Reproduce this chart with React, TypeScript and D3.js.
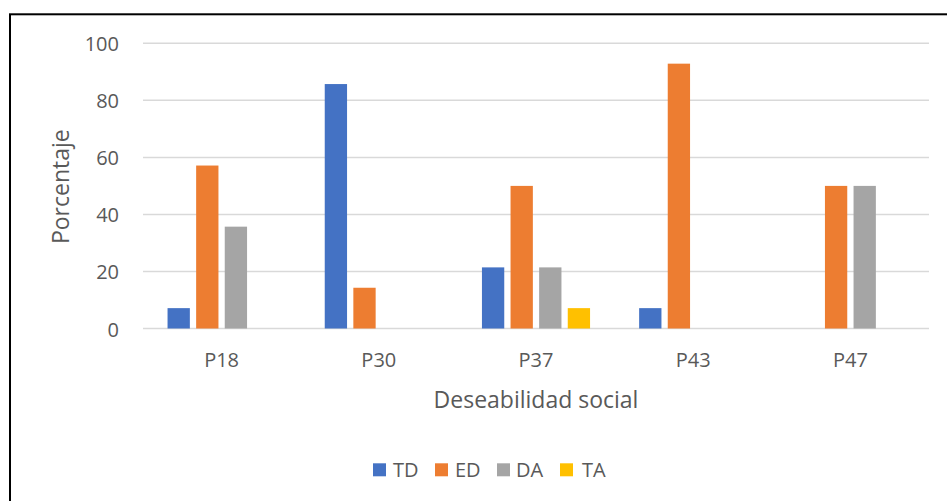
import React from "react";
import * as d3 from "d3";

const categories = ["P18", "P30", "P37", "P43", "P47"];
const seriesNames = ["TD", "ED", "DA", "TA"];
const TD = [7.14, 85.71, 21.43, 7.14, 0];
const ED = [57.14, 14.29, 50, 92.86, 50];
const DA = [35.71, 0, 21.43, 0, 50];
const TA = [0, 0, 7.14, 0, 0];
const yTicks = [0, 20, 40, 60, 80, 100];
const colors = ["#4472C4", "#ED7D31", "#A5A5A5", "#FFC000"];

const W = 947;
const H = 501;
const FONT = "'Open Sans', 'Noto Sans', sans-serif";
const TEXT = "#595959";

export default function App() {
  const seriesValues = [TD, ED, DA, TA];
  const x = d3.scaleBand<string>().domain(categories).range([143, 929]).paddingInner(0).paddingOuter(0);
  const xs = d3
    .scaleBand<string>()
    .domain(seriesNames)
    .range([0, x.bandwidth()])
    .paddingInner(0.22)
    .paddingOuter(0.858);
  const y = d3.scaleLinear().domain([0, 100]).range([328.5, 43.3]);

  const legendSquareX = [373, 435, 497, 560];
  const legendTextX = [393, 455, 516, 582];

  return (
    <div style={{ position: "absolute", left: 0, top: 0, width: W, height: H, background: "#fff" }}>
      <svg width={W} height={H} style={{ display: "block" }} fontFamily={FONT}>
        <rect x={0} y={0} width={W} height={H} fill="#fff" />
        <rect x={10} y={14.3} width={960} height={520} fill="none" stroke="#000" strokeWidth={2} />
        {yTicks.map((t) => (
          <g key={t}>
            <line x1={143} x2={929} y1={y(t)} y2={y(t)} stroke="#D9D9D9" strokeWidth={1.5} />
            <text x={119} y={y(t) + 8} textAnchor="end" fontSize={20} fill={TEXT}>
              {t}
            </text>
          </g>
        ))}
        {seriesValues.map((vals, si) =>
          categories.map((c, ci) => {
            const v = vals[ci];
            if (!v) return null;
            const bx = (x(c) ?? 0) + (xs(seriesNames[si]) ?? 0);
            return (
              <rect
                key={`${si}-${ci}`}
                x={bx}
                y={y(v)}
                width={xs.bandwidth()}
                height={y(0) - y(v)}
                fill={colors[si]}
              />
            );
          })
        )}
        {categories.map((c) => (
          <text
            key={c}
            x={(x(c) ?? 0) + x.bandwidth() / 2}
            y={366.7}
            textAnchor="middle"
            fontSize={20}
            fill={TEXT}
          >
            {c}
          </text>
        ))}
        <text x={536} y={408.3} textAnchor="middle" fontSize={23} fill={TEXT}>
          Deseabilidad social
        </text>
        <text
          transform={`translate(68.5,186.7) rotate(-90)`}
          textAnchor="middle"
          fontSize={23}
          fill={TEXT}
        >
          Porcentaje
        </text>
        {seriesNames.map((s, i) => (
          <g key={s}>
            <rect x={legendSquareX[i]} y={463.3} width={13} height={13} fill={colors[i]} />
            <text x={legendTextX[i]} y={476.7} fontSize={20} fill={TEXT}>
              {s}
            </text>
          </g>
        ))}
      </svg>
    </div>
  );
}
